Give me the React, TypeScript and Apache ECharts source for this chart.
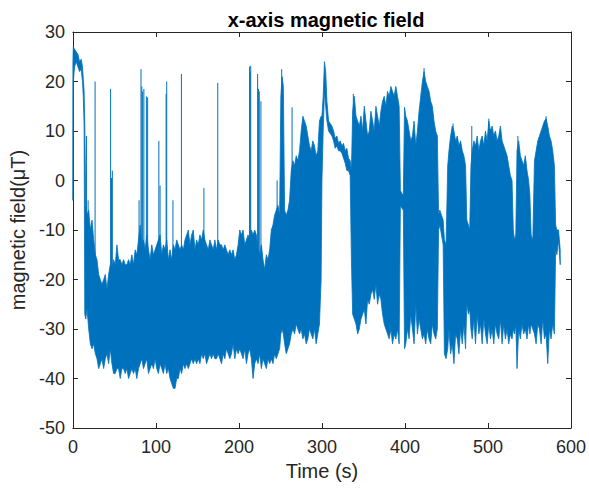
import React, { useEffect, useRef } from "react";
import * as echarts from "echarts";

// Envelope of the dense signal (time in s, upper and lower value in µT)
const bandT = [
  0, 0.5, 2, 4, 6, 8, 10, 11.5, 12.5, 13.5, 14.3, 15.5, 17, 19, 21, 23, 25, 27, 29, 31, 33, 35, 37, 39, 41, 43, 45, 47, 49, 51, 53, 55, 57, 59, 61, 63, 65, 67, 69, 71, 73, 75, 77, 79, 81, 83, 85, 87, 89, 91, 93, 95, 97, 99,
  101, 103, 105, 107, 109, 111, 113, 115, 117, 119, 121, 123, 125, 127, 129, 131, 133, 135, 137, 139, 141, 143, 145, 147, 149, 151, 153, 155, 157, 159, 161, 163, 165, 167, 169, 171, 173, 175, 177, 179, 181, 183, 185, 187, 189, 191, 193, 195, 197, 199,
  201, 203, 205, 207, 209, 211, 213, 215, 217, 219, 221, 223, 225, 227, 229, 231, 233, 235, 237, 239, 241, 243, 245, 247, 249, 250.5, 252, 253.5, 255, 257, 259, 261, 263, 265, 267, 269, 271, 273, 275, 277, 279, 281, 283, 285, 287, 289, 291, 293, 295, 297, 299,
  300, 301.5, 303, 304.5, 306, 308, 310, 312, 314, 316, 318, 320, 322, 324, 326, 328, 330, 332, 334, 335.5, 337, 339, 341, 343, 345, 347, 349, 351, 353, 355, 357, 359, 361, 363, 365, 367, 369, 371, 373, 375, 377, 379, 381, 383, 385, 387, 389, 391, 393, 394.5, 396, 398, 399.5,
  401, 403, 405, 407, 409, 411, 413, 415, 417, 419, 421, 423, 425, 427, 429, 431, 433, 435, 437, 439, 440.5, 442, 444, 446, 447.5, 449.5, 451.5, 453, 455, 457, 459, 461, 463, 465, 467, 469, 471, 473, 474.5, 476.5, 478, 479.5, 481, 483, 485, 487, 489, 491, 493, 495, 497, 499,
  501, 503, 505, 507, 509, 511, 513, 515, 517, 519, 521, 523, 525, 527, 529, 530.5, 532, 533.5, 535, 537, 539, 541, 543, 545, 547, 549, 550.5, 552, 554, 556, 558, 560, 562, 564, 566, 568, 570, 572, 574, 576, 578, 580, 581.5, 583, 585, 587,
];
const bandHi = [
  24, 27, 26.5, 26, 25.5, 24, 24.5, 23, 20.5, 18, 11, -5, -7, -6, -10, -8, -12, -15, -16, -19, -20, -21, -20, -19, -22, -19, -17, -18, -16, -17, -13, -16, -16, -17, -16, -17, -17, -16, -17, -15, -17, -14, -15, -12, -9, -13, -12, -14, -11, -14, -16, -13, -15, -14,
  -13, -12, -11, -15, -13, -14, -12, -16, -14, -16, -13, -14, -12, -13, -14, -13, -14, -12, -11, -10, -13, -11, -10, -14, -12, -13, -11, -12, -10, -12, -13, -14, -12, -13, -14, -12, -14, -12, -13, -13, -14, -13, -14, -15, -14, -15, -14, -16, -15, -13,
  -10, -11, -10, -13, -12, -11, -12, -10, -11, -10, -11, -14, -15, -13, -16, -18, -15, -16, -14, -10, -9, -7, -6, -5, -7, 17, 21, 19, -6, -7, -6, -4, 2, 4, 3, 5, 4, 6, 10, 13, 12, 11, 9, 7, 6, 8, 7, 5, 6, 12, 13,
  13, 17, 24, 22, 16, 12, 11.5, 11, 10, 8.5, 9, 7.5, 8, 7, 7.5, 6, 6.5, 4.5, 4, 2, 14, 17, 13, 12, 11, 13, 10, 15, 12, 9, 10, 14, 12, 10, 15, 13, 11, 14, 16, 17, 15, 18, 17, 19, 18, 17, 19, 17, 15, -2, -2.5, -3, 14.8,
  13, 12, 10, 8, 9, 12, 7, 10, 14, 17, 20, 22, 20, 19, 18, 16, 15, 12, 10, 9, -7, -6, -7, -8, -12, -13, 3, 6, 9, 11, 10, 8, 9, 7, 8, 6, 5, 3, -8, -9, -10, 3, 6, 8, 7, 9, 6, 8, 9, 7, 10, 8,
  12, 10, 11, 9, 10, 8, 9, 11, 8, 7, 6, 5, 3, 1, 0, -10, -12, -11, 6, 8, 5, 4, 3, 5, 2, 0, -3, -11, -12, 4, 6, 8, 9, 10, 11, 12, 12.5, 11, 9, 8, 6, 3, -9, -10, -10, -14,
];
const bandLo = [
  -4, 20, 23, 24, 23, 22, 22.5, 20, 17, 11, -27, -28, -26, -30, -33, -34, -33, -35, -36, -38, -37, -36, -38, -36, -35, -37, -34, -37, -39, -39, -38, -38, -40, -38, -38, -39, -38, -40, -39, -38, -39, -38, -40, -38, -37, -36, -38, -37, -36, -39, -38, -37, -38, -36,
  -38, -39, -37, -38, -39, -37, -39, -38, -40, -41, -42, -42, -40, -40, -38, -39, -37, -38, -37, -38, -37, -36, -37, -36, -37, -36, -37, -35, -36, -35, -37, -36, -35, -36, -35, -36, -36, -35, -36, -37, -35, -36, -34, -35, -36, -35, -33, -36, -34, -35,
  -34, -35, -36, -34, -37, -35, -34, -36, -40, -37, -36, -37, -35, -38, -36, -37, -38, -36, -37, -36, -37, -35, -36, -35, -34, -31, -30, -31, -33, -35, -34, -33, -31, -30, -31, -29, -30, -31, -30, -32, -31, -33, -32, -30, -31, -32, -30, -33, -31, -29, -20,
  0, 10, 18, 15, 12, 10, 9.5, 9, 8, 6.5, 7, 6, 6, 5.5, 4.5, 3.5, 2, 2, 1, -16, -27, -28, -29, -31, -30, -28, -27, -26, -29, -24, -25, -23, -22, -24, -21, -25, -23, -24, -27, -29, -30, -31, -32, -30, -33, -31, -32, -30, -33, -5, -5.5, -6, -34,
  -33, -30, -32, -27, -30, -33, -25, -31, -28, -30, -32, -31, -33, -30, -32, -33, -29, -31, -32, -30, -10, -9, -11, -13, -35, -36, -34, -30, -35, -33, -37, -31, -32, -35, -30, -33, -29, -34, -25, -27, -26, -30, -32, -28, -33, -27, -31, -29, -33, -28, -31, -33,
  -29, -32, -30, -33, -29, -31, -32, -28, -33, -29, -32, -30, -33, -31, -32, -30, -31, -29, -38, -30, -32, -29, -31, -30, -32, -29, -31, -29, -30, -31, -33, -29, -30, -33, -28, -32, -31, -37, -30, -32, -29, -31, -14, -15, -12, -17,
];

// Isolated upward spikes: time, starting value, peak value
const spikeT = [16.3, 18.3, 26.7, 45.4, 46.5, 47.5, 79.7, 82, 83, 84, 85.5, 88.5, 90, 103.5, 105, 112.3, 113, 120.5, 130.7, 157.8, 174.5, 212.8, 213.5, 214.2, 222.5, 223.5, 224.5, 226.5, 246, 251.5, 264, 337.8, 423, 458, 480.5, 501, 536, 570];
const spikeFrom = [-20, -20, -25, -25, -25, -25, -25, -25, -25, -25, -25, -25, -25, -25, -25, -25, -25, -25, -25, -25, -25, -25, -25, -25, -25, -25, -25, -25, -25, -25, -20, -10, -10, -10, -10, -10, -10, -10];
const spikePeak = [9, -4, 20, 18.5, 0.5, 2, -4, 22.5, 19, 18, 18.5, 17, 16.8, 8, -1, 17.5, 20, -4, 21.5, -1.5, 19.7, 23, 22, 23.2, 21.5, 18.5, 18, 16, 0, 22.5, 14.8, 17.5, 22.7, 11.5, 11, 12.5, 9, 13];

const xTicks = { min: 0, max: 600, interval: 100 };
const yTicks = { min: -50, max: 30, interval: 10 };

const FONT = "'Liberation Sans', Arial, Helvetica, sans-serif";
const AXIS = "#262626";
const LINE = "#0072BD";

export default function App() {
  const ref = useRef<HTMLDivElement>(null);
  useEffect(() => {
    if (!ref.current) return;
    const chart = echarts.init(ref.current, undefined, { renderer: "svg" });
    const bandData = bandT.map((t, i) => [t, bandHi[i], bandLo[i]]);
    const spikeData: any[] = [];
    spikeT.forEach((t, i) => {
      spikeData.push([t, spikeFrom[i]]);
      spikeData.push([t, spikePeak[i]]);
      spikeData.push([t, "-"]);
    });
    const baseX = {
      type: "value",
      min: xTicks.min,
      max: xTicks.max,
      interval: xTicks.interval,
      splitLine: { show: false },
      axisLine: { show: true, onZero: false, lineStyle: { color: AXIS, width: 1 } },
      axisTick: { show: true, inside: true, length: 5, lineStyle: { color: AXIS } },
    };
    const baseY = {
      type: "value",
      min: yTicks.min,
      max: yTicks.max,
      interval: yTicks.interval,
      splitLine: { show: false },
      axisLine: { show: true, onZero: false, lineStyle: { color: AXIS, width: 1 } },
      axisTick: { show: true, inside: true, length: 5, lineStyle: { color: AXIS } },
    };
    chart.setOption({
      animation: false,
      backgroundColor: "#ffffff",
      title: {
        text: "x-axis magnetic field",
        left: 321,
        top: 5,
        textAlign: "center",
        textStyle: { fontFamily: FONT, fontSize: 20, fontWeight: "bold", color: "#000000" },
      },
      grid: { left: 70, top: 32, width: 502, height: 396, containLabel: false },
      xAxis: [
        {
          ...baseX,
          position: "bottom",
          name: "Time (s)",
          nameLocation: "middle",
          nameGap: 33,
          nameTextStyle: { fontFamily: FONT, fontSize: 20, color: AXIS },
          axisLabel: { fontFamily: FONT, fontSize: 18, color: AXIS, margin: 10 },
        },
        { ...baseX, position: "top", axisLabel: { show: false } },
      ],
      yAxis: [
        {
          ...baseY,
          position: "left",
          name: "magnetic field(μT)",
          nameLocation: "middle",
          nameGap: 39,
          nameRotate: 90,
          nameTextStyle: { fontFamily: FONT, fontSize: 20, color: AXIS },
          axisLabel: { fontFamily: FONT, fontSize: 18, color: AXIS, margin: 8 },
        },
        { ...baseY, position: "right", axisLabel: { show: false } },
      ],
      series: [
        {
          type: "custom",
          data: bandData,
          encode: { x: 0, y: [1, 2] },
          silent: true,
          renderItem: (params: any, api: any) => {
            if (params.dataIndex !== 0) return null;
            const top = bandData.map((d) => api.coord([d[0], d[1]]));
            const bottom = bandData.map((d) => api.coord([d[0], d[2]])).reverse();
            return {
              type: "polygon",
              shape: { points: top.concat(bottom) },
              style: { fill: LINE, stroke: LINE, lineWidth: 0.8 },
            };
          },
        },
        {
          type: "line",
          data: spikeData,
          symbol: "none",
          connectNulls: false,
          lineStyle: { color: LINE, width: 1 },
          silent: true,
        },
      ],
    });
    return () => chart.dispose();
  }, []);
  return (
    <div
      ref={ref}
      style={{ position: "absolute", left: 0, top: 0, width: 589, height: 489 }}
    />
  );
}
